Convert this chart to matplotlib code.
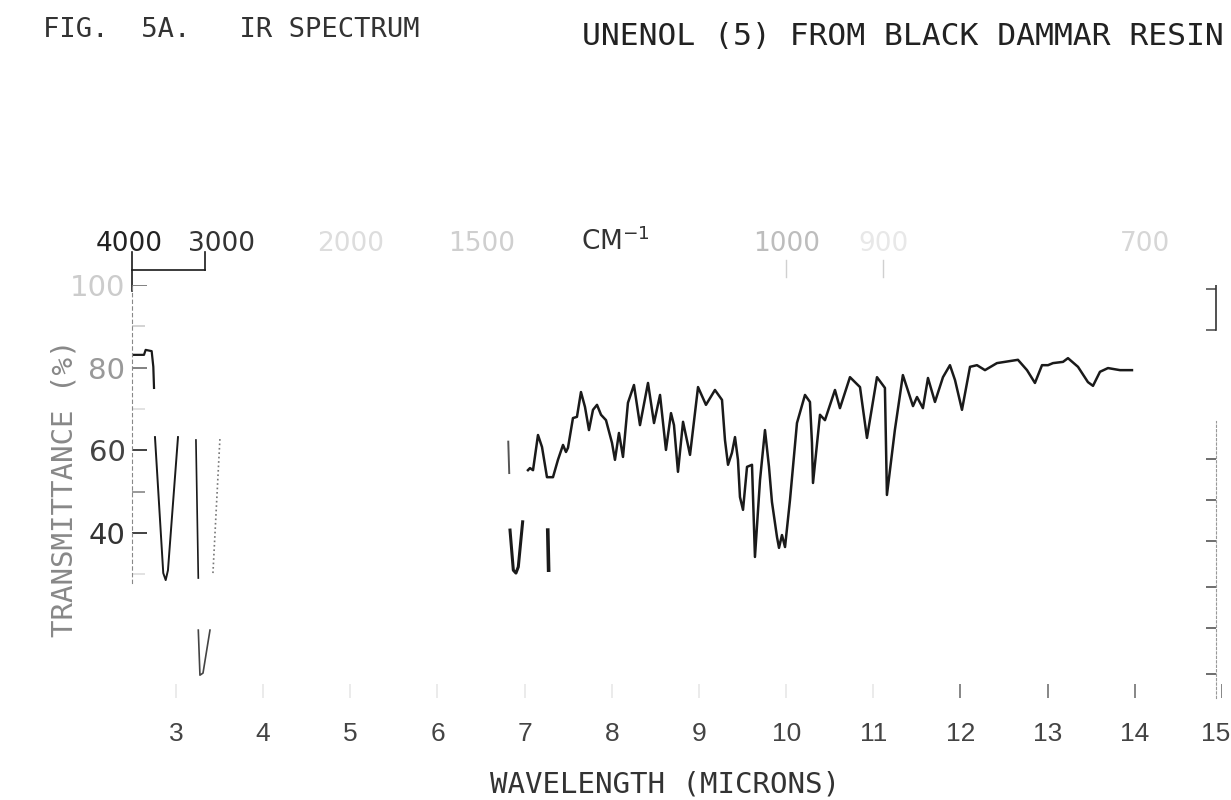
import numpy as np
import matplotlib.pyplot as plt
import matplotlib.transforms as mtransforms

plt.rcParams['font.family'] = ['Liberation Sans', 'DejaVu Sans']

# IR trace: wavelength (microns) vs transmittance (%)
# the scan is faded, so only the visible pieces of the pen trace are kept
oh_top_wl = [2.51, 2.633, 2.652, 2.721, 2.740, 2.748]
oh_top_t = [83.1, 83.1, 84.3, 84.0, 80.2, 75.1]

oh_band_wl = [2.759, 2.854, 2.882, 2.908, 3.023]
oh_band_t = [63.2, 30.3, 28.6, 31.0, 63.2]

ch_drop_wl = [3.229, 3.256]
ch_drop_t = [62.5, 29.1]

ch_low_wl = [3.256, 3.275, 3.310, 3.390]
ch_low_t = [16.5, 5.6, 6.1, 16.5]

ch_rise_wl = [3.424, 3.505]
ch_rise_t = [30.3, 63.2]

frag_a_wl = [6.812, 6.823]
frag_a_t = [62.1, 54.5]

frag_b_wl = [6.832, 6.870, 6.900, 6.927, 6.977]
frag_b_t = [40.7, 31.0, 30.3, 31.8, 42.7]

frag_c_wl = [7.265, 7.275]
frag_c_t = [40.7, 31.0]

fp_wl = [7.038, 7.061, 7.096, 7.153, 7.199, 7.256, 7.325, 7.382, 7.440, 7.474,
         7.497, 7.554, 7.600, 7.646, 7.692, 7.738, 7.784, 7.830, 7.876, 7.933,
         8.002, 8.036, 8.082, 8.128, 8.185, 8.254, 8.323, 8.415, 8.484, 8.553,
         8.621, 8.679, 8.713, 8.759, 8.817, 8.897, 8.989, 9.080, 9.183, 9.264,
         9.298, 9.333, 9.378, 9.413, 9.447, 9.470, 9.505, 9.551, 9.608, 9.642,
         9.700, 9.757, 9.803, 9.837, 9.895, 9.918, 9.952, 9.987, 10.044, 10.124,
         10.216, 10.273, 10.296, 10.308, 10.388, 10.445, 10.560, 10.617, 10.732, 10.847,
         10.927, 11.042, 11.133, 11.156, 11.247, 11.339, 11.455, 11.501, 11.569, 11.627,
         11.707, 11.799, 11.879, 11.937, 12.017, 12.109, 12.189, 12.281, 12.418, 12.659,
         12.763, 12.854, 12.935, 13.004, 13.061, 13.176, 13.233, 13.348, 13.462, 13.520,
         13.600, 13.692, 13.830, 13.967]
fp_t = [55.2, 55.7, 55.2, 63.7, 60.8, 53.5, 53.5, 57.7, 61.3, 59.6,
        60.6, 67.8, 68.1, 74.1, 70.5, 64.9, 69.8, 71.0, 68.6, 67.3,
        61.8, 57.7, 64.2, 58.4, 71.5, 75.8, 66.1, 76.3, 66.6, 73.4,
        60.1, 69.0, 66.1, 54.8, 66.9, 58.9, 75.3, 71.0, 74.6, 72.2,
        62.5, 56.5, 59.4, 63.2, 57.7, 48.7, 45.6, 56.0, 56.5, 34.2,
        52.8, 64.9, 56.0, 47.5, 39.0, 36.4, 39.5, 36.6, 48.0, 66.6,
        73.4, 71.7, 61.8, 52.1, 68.6, 67.3, 74.6, 70.2, 77.7, 75.3,
        63.0, 77.7, 75.1, 49.2, 64.9, 78.2, 70.7, 72.9, 70.2, 77.5,
        71.7, 77.7, 80.6, 77.0, 69.8, 80.2, 80.6, 79.4, 81.1, 81.9,
        79.4, 76.3, 80.6, 80.6, 81.1, 81.4, 82.3, 80.2, 76.5, 75.6,
        79.0, 79.9, 79.4, 79.4]

# axis scales
micron_ticks = list(range(3, 16))
t_major = [40, 60, 80, 100]
t_minor = [30, 50, 70, 90]
right_ticks = [99, 89, 58, 48, 38, 27, 17, 6]
wavenumbers = [4000, 3000, 2000, 1500, 1000, 900, 700]
wn_colors = ['#222222', '#333333', '#dddddd', '#cfcfcf', '#bdbdbd', '#e8e8e8', '#d6d6d6']
wn_shift = [-3, 16, 0, -14, 0, 0, -15]

fig = plt.figure(figsize=(12.31, 8), dpi=100)
ax = fig.add_axes([132.4 / 1231, 1 - 698.3 / 800, 1089.6 / 1231, 413.3 / 800])
ax.set_xlim(2.5, 15)
ax.set_ylim(0, 100)

ink = '#1a1a1a'
for wl, t, lw, ls, col in [(oh_top_wl, oh_top_t, 1.6, '-', ink),
                           (oh_band_wl, oh_band_t, 1.4, '-', ink),
                           (ch_drop_wl, ch_drop_t, 1.2, '-', ink),
                           (ch_low_wl, ch_low_t, 1.2, '-', '#444444'),
                           (ch_rise_wl, ch_rise_t, 1.2, ':', '#777777'),
                           (frag_a_wl, frag_a_t, 1.4, '-', '#555555'),
                           (frag_b_wl, frag_b_t, 2.2, '-', ink),
                           (frag_c_wl, frag_c_t, 2.6, '-', ink),
                           (fp_wl, fp_t, 1.8, '-', ink)]:
    ax.plot(wl, t, color=col, lw=lw, ls=ls, solid_joinstyle='round')

# frame pieces that survived the scan
for s in ['top', 'bottom', 'right']:
    ax.spines[s].set_visible(False)
ax.spines['left'].set_bounds(28, 100)
ax.spines['left'].set_linestyle((0, (3, 3)))
ax.spines['left'].set_color('#888888')
ax.axvline(2.5, ymin=0.985, ymax=1.08, color=ink, lw=1.2, clip_on=False)
wl3000 = 1e4 / 3000
ax.axhline(103.6, xmin=0, xmax=(wl3000 - 2.5) / 12.5, color=ink, lw=1.2, clip_on=False)
ax.axvline(wl3000, ymin=1.036, ymax=1.08, color=ink, lw=1.2, clip_on=False)
for wn in [1000, 900]:
    ax.axvline(1e4 / wn, ymin=1.02, ymax=1.06, color='#d0d0d0', lw=1, clip_on=False)

# left axis: labels from the axis, tick marks drawn faint/dark like the scan
ax.set_yticks(t_major)
ax.tick_params(axis='y', length=0, pad=5, labelsize=21)
for lab, col in zip(ax.get_yticklabels(), ['#333333', '#444444', '#999999', '#cccccc']):
    lab.set_color(col)
    lab.set_fontfamily('DejaVu Sans')
ax.hlines(t_major, 0, 0.013, transform=ax.get_yaxis_transform(), lw=1.3,
          colors=['#333333', '#333333', '#777777', '#777777'])
ax.hlines(t_minor, 0, 0.012, transform=ax.get_yaxis_transform(), lw=1.2,
          colors=['#dddddd', '#888888', '#dddddd', '#cccccc'])

# bottom axis
ax.set_xticks(micron_ticks)
ax.set_xticklabels([str(m) for m in micron_ticks])
ax.tick_params(axis='x', length=0, pad=17, labelsize=19, labelcolor='#444444')
ax.vlines(micron_ticks, 0, 0.034, transform=ax.get_xaxis_transform(), lw=1.1,
          colors=['#666666' if m >= 12 else '#e6e6e6' for m in micron_ticks])
last = ax.get_xticklabels()[-1]
last.set_ha('right')
last.set_transform(last.get_transform() +
                   mtransforms.ScaledTranslation(8 / 100, 0, fig.dpi_scale_trans))

# right axis
ax2 = ax.twinx()
ax2.set_ylim(0, 100)
for s in ['top', 'bottom', 'left']:
    ax2.spines[s].set_visible(False)
ax2.spines['right'].set_position(('axes', (1216 - 132.4) / 1089.6))
ax2.spines['right'].set_bounds(0, 67)
ax2.spines['right'].set_linestyle((0, (2, 2)))
ax2.spines['right'].set_color('#999999')
ax2.set_yticks(right_ticks)
ax2.set_yticklabels([])
ax2.tick_params(axis='y', direction='in', length=7, width=1.2, color='#555555')
ax2.axvline(2.5 + 12.5 * (1216 - 132.4) / 1089.6, ymin=0.89, ymax=1.0, color='#333333', lw=1.2)

# wavenumber scale on top
for wn, col, dx in zip(wavenumbers, wn_colors, wn_shift):
    ax.annotate(str(wn), (1e4 / wn, 110), xytext=(dx, 0), textcoords='offset pixels',
                ha='center', va='center', fontsize=19, color=col,
                family='DejaVu Sans', annotation_clip=False)
ax.text(8.04, 110.5, 'CM$^{-1}$', ha='center', va='center', fontsize=19,
        color='#333333', family='DejaVu Sans', clip_on=False)

mono = 'DejaVu Sans Mono'
fig.text(43 / 1231, 1 - 37 / 800, 'FIG.  5A.   IR SPECTRUM', family=mono,
         fontsize=19.5, color='#333333', va='baseline')
fig.text(582 / 1231, 1 - 45 / 800, 'UNENOL (5) FROM BLACK DAMMAR RESIN', family=mono,
         fontsize=22.6, color='#222222', va='baseline')
fig.text(665 / 1231, 1 - 792 / 800, 'WAVELENGTH (MICRONS)', family=mono,
         fontsize=21, color='#333333', ha='center', va='baseline')
fig.text(65 / 1231, 1 - 488 / 800, 'TRANSMITTANCE (%)', family=mono, rotation=90,
         fontsize=21, color='#888888', ha='center', va='center')

fig.savefig('out.png', dpi=100)
